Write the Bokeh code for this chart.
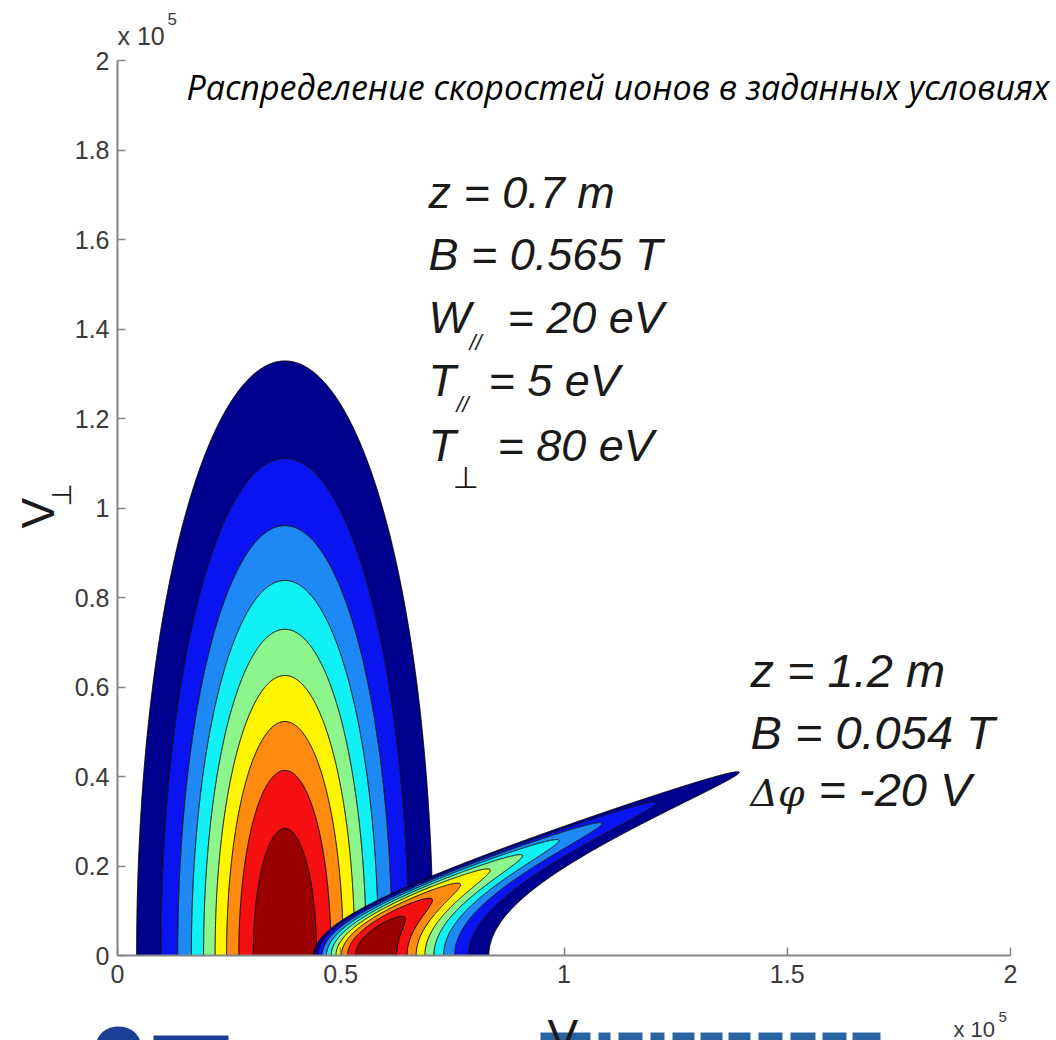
import numpy as np
from bokeh.plotting import figure
from bokeh.models import (Range1d, FixedTicker, CustomJSTickFormatter, Label,
                          LinearAxis)
from bokeh.embed import file_html
from bokeh.resources import INLINE

# --- plasma parameters (upstream point / downstream point) ---
Z_UP, B_UP = 0.7, 0.565          # m, T
W_PAR, T_PAR, T_PERP = 20, 5, 80  # eV
Z_DN, B_DN = 1.2, 0.054          # m, T
DELTA_PHI = -20                  # V

# deuterium ions; velocities are expressed in units of 1e5 m/s
M_ION = 3.3436e-27
Q_E = 1.602e-19
V_SCALE = 1e5
V_DRIFT = 0.375                  # centre of the upstream beam, 1e5 m/s

# contour levels of the normalised distribution function and their fills
LEVELS = [0.1, 0.2, 0.3, 0.4, 0.5, 0.6, 0.7, 0.8, 0.9, 1.001]
BAND_COLORS = ["#00008F", "#0A14F0", "#1E88F5", "#10F0F5", "#8CF58C",
               "#FFF500", "#FF8A10", "#F41010", "#9A0000"]

X_TICKS = [0, 0.5, 1, 1.5, 2]
Y_TICKS = [0, 0.2, 0.4, 0.6, 0.8, 1, 1.2, 1.4, 1.6, 1.8, 2]

TITLE = "Распределение скоростей ионов в заданных условиях"


def thermal_speed(t_ev):
    return np.sqrt(2 * t_ev * Q_E / M_ION) / V_SCALE


A_PAR = thermal_speed(T_PAR)
B_PERP = thermal_speed(T_PERP)
V_PHI = thermal_speed(abs(DELTA_PHI))
MIRROR = B_UP / B_DN


def f_upstream(u, w):
    return np.exp(-((u - V_DRIFT) / A_PAR) ** 2 - (w / B_PERP) ** 2)


def f_downstream(u, w):
    # Liouville mapping: magnetic moment and energy are conserved
    w0 = w * np.sqrt(MIRROR)
    u0sq = u ** 2 - V_PHI ** 2 - (MIRROR - 1.0) * w ** 2
    u0 = np.sqrt(np.clip(u0sq, 0, None))
    return np.where(u0sq > 0, f_upstream(u0, w0), 0.0)


# canvas geometry: the axes box spans pixels x 117..1010, y 60..955
W_PX, H_PX = 1056, 1040
X0_PX, X2_PX = 117, 1010
Y0_PX, Y2_PX = 955, 60
SX = (X2_PX - X0_PX) / 2.0
SY = (Y0_PX - Y2_PX) / 2.0


def dx(px):
    return (px - X0_PX) / SX


def dy(py):
    return (Y0_PX - py) / SY


# the frame covers the whole canvas; axes are pinned at zero
p = figure(width=W_PX, height=H_PX,
           x_range=Range1d(dx(0), dx(W_PX)), y_range=Range1d(dy(H_PX), dy(0)),
           x_axis_location=None, y_axis_location=None,
           output_backend="svg", toolbar_location=None, min_border=0)
p.xgrid.visible = False
p.ygrid.visible = False
p.outline_line_color = None
p.background_fill_color = "white"
p.border_fill_color = "white"

# emblems along the lower edge of the slide (only their tops are in view)
p.ellipse(x=dx(118), y=dy(1044), width=44 / SX, height=36 / SY,
          fill_color="#1b3f95", line_color=None)
p.quad(left=dx(153), right=dx(228), bottom=dy(1041), top=dy(1035),
       fill_color="#1b3f95", line_color=None)
logo_left = [540, 598, 618, 650, 672, 700, 728, 758, 790, 822, 852]
logo_right = [590, 610, 642, 664, 694, 722, 750, 782, 815, 846, 880]
p.quad(left=[dx(v) for v in logo_left], right=[dx(v) for v in logo_right],
       bottom=dy(1041), top=dy(1032), fill_color="#2a64a0", line_color=None)

# upstream distribution (z = 0.7 m)
u1, w1 = np.meshgrid(np.linspace(0.0, 0.85, 500), np.linspace(0.0, 1.45, 800))
p.contour(u1, w1, f_upstream(u1, w1), LEVELS, fill_color=BAND_COLORS,
          line_color="black", line_width=1)

# downstream distribution (z = 1.2 m), drawn on top
u2, w2 = np.meshgrid(np.linspace(0.38, 1.5, 1200), np.linspace(0.0, 0.46, 480))
p.contour(u2, w2, f_downstream(u2, w2), LEVELS, fill_color=BAND_COLORS,
          line_color="black", line_width=1)

fmt = CustomJSTickFormatter(code="return String(Math.round(tick * 10) / 10);")
xaxis = LinearAxis(fixed_location=0, bounds=(0, 2))
yaxis = LinearAxis(fixed_location=0, bounds=(0, 2))
for ax, ticks, standoff in ((xaxis, X_TICKS, 9), (yaxis, Y_TICKS, 8)):
    ax.ticker = FixedTicker(ticks=ticks)
    ax.formatter = fmt
    ax.axis_line_color = "#858585"
    ax.axis_line_width = 2
    ax.major_tick_line_color = "#858585"
    ax.major_tick_line_width = 1.5
    ax.major_tick_in = 8
    ax.major_tick_out = 0
    ax.minor_tick_line_color = None
    ax.major_label_standoff = standoff
    ax.major_label_text_font = "Liberation Sans"
    ax.major_label_text_font_size = "25px"
    ax.major_label_text_color = "#3a3a3a"
p.add_layout(xaxis, "below")
p.add_layout(yaxis, "left")

# a Label's alphabetic anchor sits this fraction of the font size
# below the drawn baseline, so anchors are raised by it
BASELINE_SHIFT = 0.39


def label(px, py, text, size, font="Liberation Sans", style="italic",
          color="#1a1a1a", angle=0.0, baseline="alphabetic", shift=True):
    if shift and baseline == "alphabetic":
        py -= BASELINE_SHIFT * size
    p.add_layout(Label(x=dx(px), y=dy(py), text=text, text_font=font,
                       text_font_size=f"{size}px", text_font_style=style,
                       text_color=color, text_baseline=baseline,
                       text_align="left", angle=angle))


# title
label(186, 100, TITLE, 34, font="Open Sans", color="black")

# exponent markers of both axes
label(117, 45, "x 10", 25, style="normal", color="#3a3a3a")
label(167, 25, "5", 17, style="normal", color="#3a3a3a")
label(953, 1038, "x 10", 22, style="normal", color="#3a3a3a")
label(998, 1022, "5", 15, style="normal", color="#3a3a3a")

# axis names
label(37, 528, "V", 46, style="normal", color="#1a1a1a", angle=np.pi / 2,
      shift=False)
label(61, 506, "⊥", 27, font="DejaVu Sans", style="normal", color="#1a1a1a",
      angle=np.pi / 2, shift=False)
label(547, 1009, "V", 46, style="normal", color="#1a1a1a", baseline="top")

# upstream conditions
label(428, 210, f"z = {Z_UP} m", 45)
label(428, 272, f"B = {B_UP} T", 45)
label(428, 335, "W", 45)
label(469, 342, "//", 22, shift=False)
label(507, 335, f"= {W_PAR} eV", 45)
label(428, 398, "T", 45)
label(456, 404, "//", 22, shift=False)
label(488, 398, f"= {T_PAR} eV", 45)
label(428, 463, "T", 45)
label(452, 489, "⊥", 30, font="DejaVu Sans")
label(497, 463, f"= {T_PERP} eV", 45)

# downstream conditions
label(750, 688, f"z = {Z_DN} m", 47)
label(750, 750, f"B = {B_DN} T", 47)
label(750, 807, "Δφ", 38, font="DejaVu Serif")
label(818, 807, f"= {DELTA_PHI} V", 47)

open("out.html", "w").write(file_html(p, INLINE))
